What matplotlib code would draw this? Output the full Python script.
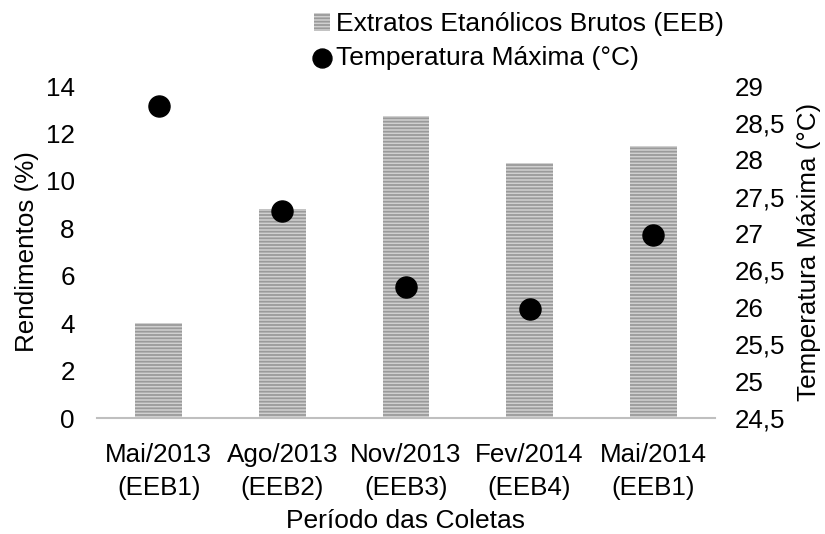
import numpy as np
import matplotlib
matplotlib.use("Agg")
import matplotlib.pyplot as plt
from matplotlib.ticker import FuncFormatter

plt.rcParams['font.family'] = ['Liberation Sans', 'DejaVu Sans']
plt.rcParams['hatch.color'] = '#5a5a5a'
plt.rcParams['hatch.linewidth'] = 1.3

# Data
periodos = ["Mai/2013\n(EEB1)", "Ago/2013\n(EEB2)", "Nov/2013\n(EEB3)",
            "Fev/2014\n(EEB4)", "Mai/2014\n(EEB1)"]
rendimentos = [4.0, 8.8, 12.75, 10.75, 11.45]
temp_max = [28.73, 27.3, 26.28, 25.98, 26.98]

left_ticks = [0, 2, 4, 6, 8, 10, 12, 14]
right_ticks = [24.5, 25, 25.5, 26, 26.5, 27, 27.5, 28, 28.5, 29]

FS = 18.7

fig = plt.figure(figsize=(8.25, 5.34), dpi=100)
ax = fig.add_axes([97/825, 1 - 418/534, 618/825, 332/534])

x = np.arange(len(periodos))
bars = ax.bar(x, rendimentos, width=0.38, color='#d0d0d0', edgecolor='#9a9a9a',
              linewidth=0, hatch='-----', label='Extratos Etanólicos Brutos (EEB)',
              zorder=2)
ax.set_ylim(0, 14)
ax.set_xlim(-0.5, len(periodos) - 0.5)
ax.set_yticks(left_ticks)
ax.set_xticks(x)
ax.set_xticklabels(periodos, fontsize=FS, linespacing=1.45)
ax.tick_params(axis='x', length=0, labelsize=FS, pad=18)
ax.tick_params(axis='y', length=0, labelsize=FS, pad=16)
ax.set_ylabel("Rendimentos (%)", fontsize=FS, labelpad=5)
ax.set_xlabel("Período das Coletas", fontsize=19, labelpad=7)
for s in ['top', 'right', 'left']:
    ax.spines[s].set_visible(False)
ax.spines['bottom'].set_color('#bfbfbf')
ax.spines['bottom'].set_linewidth(1.5)

ax2 = ax.twinx()
pts = ax2.scatter(x, temp_max, s=230, color='black', zorder=3,
                  label='Temperatura Máxima (°C)')
ax2.set_ylim(24.5, 29)
ax2.set_yticks(right_ticks)
ax2.yaxis.set_major_formatter(FuncFormatter(lambda v, p: f"{v:g}".replace('.', ',')))
ax2.tick_params(axis='y', length=0, labelsize=FS, pad=14)
ax2.set_ylabel("Temperatura Máxima (°C)", fontsize=FS, labelpad=9)
for s in ['top', 'right', 'left', 'bottom']:
    ax2.spines[s].set_visible(False)

fig.legend([bars, pts], ['Extratos Etanólicos Brutos (EEB)', 'Temperatura Máxima (°C)'],
           loc='upper left', bbox_to_anchor=(290/825, 1.022), ncol=1, frameon=False,
           fontsize=19, handlelength=0.6, handletextpad=0.25, labelspacing=0.38,
           markerscale=0.9)

fig.savefig("out.png", dpi=100)
